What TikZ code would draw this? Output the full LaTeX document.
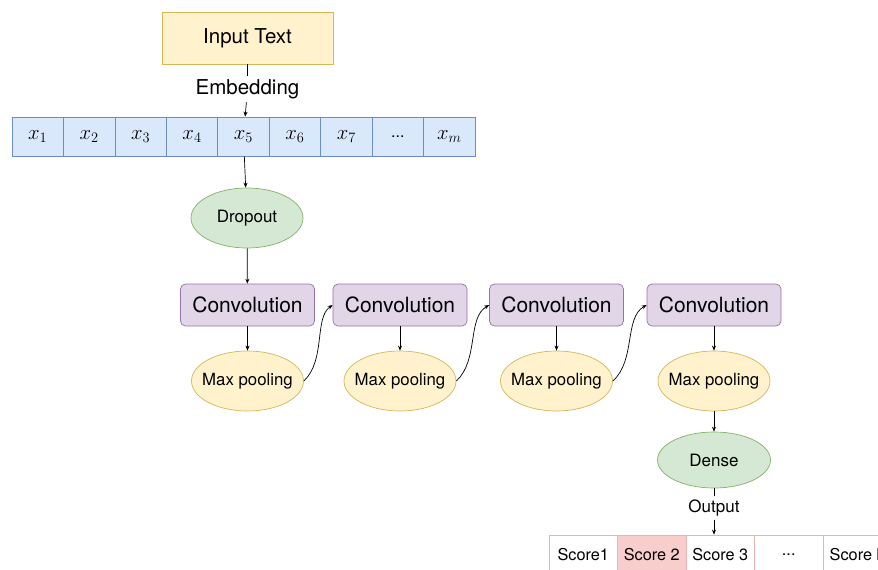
\documentclass[tikz,border=0pt]{standalone}
\usepackage[no-math]{fontspec}
\setmainfont{TeX Gyre Heros}
\usepackage{amsmath}
\usepackage{xcolor}
\usetikzlibrary{arrows.meta,shapes.geometric}

\definecolor{yelfill}{HTML}{FFF2CC}
\definecolor{yelline}{HTML}{D6B656}
\definecolor{bluefill}{HTML}{DAE8FC}
\definecolor{blueline}{HTML}{6C8EBF}
\definecolor{grnfill}{HTML}{D5E8D4}
\definecolor{grnline}{HTML}{82B366}
\definecolor{purfill}{HTML}{E1D5E7}
\definecolor{purline}{HTML}{9673A6}
\definecolor{redfill}{HTML}{F8CECC}
\definecolor{redline}{HTML}{EAB3B1}

\begin{document}
\begin{tikzpicture}[x=1pt,y=-1pt,line width=0.7pt,
    every node/.style={inner sep=0pt},
    arr/.style={-{Stealth[length=5pt,width=4pt]}},
    inbox/.style={draw=yelline,fill=yelfill,minimum width=171pt,minimum height=52pt,font=\fontsize{20.5}{24}\selectfont},
    tokcell/.style={draw=blueline,fill=bluefill,minimum width=51.44pt,minimum height=39pt,font=\fontsize{22}{26}\selectfont},
    dropnode/.style={ellipse,draw=grnline,fill=grnfill,inner xsep=-14pt,minimum width=112pt,minimum height=60pt,font=\fontsize{17}{20}\selectfont},
    convbox/.style={draw=purline,fill=purfill,rounded corners=5pt,minimum width=134pt,minimum height=42pt,font=\fontsize{21}{25}\selectfont},
    poolnode/.style={ellipse,draw=yelline,fill=yelfill,inner xsep=-14pt,minimum width=112pt,minimum height=60pt,font=\fontsize{16.8}{20}\selectfont},
    scorecell/.style={draw=redline,minimum width=68.5pt,minimum height=40pt,font=\fontsize{16.3}{19}\selectfont},
    lbl/.style={fill=white,inner sep=3pt,font=\fontsize{20.5}{24}\selectfont}]
  \useasboundingbox (0,0) rectangle (878,570);

  \node (in) at (247.5,38) [inbox] {Input Text};
  \node (emb) at (247.5,89) [lbl] {Embedding};
  \foreach \i/\t in {1/$x_1$,2/$x_2$,3/$x_3$,4/$x_4$,5/$x_5$,6/$x_6$,7/$x_7$,8/{\fontsize{16}{18}\selectfont ...},9/$x_m$}
    \node (x\i) at ({12+51.44*(\i-0.5)},136.5) [tokcell] {\t};
  \node (drop) at (247,218) [dropnode] {Dropout};

  % conv / pooling stages
  \foreach \i/\cx in {1/247.5,2/400,3/556.5,4/714}{
    \node (c\i) at (\cx,305) [convbox] {Convolution};
    \node (p\i) at (\cx,381) [poolnode] {Max pooling};
    \draw[arr] (c\i) -- (p\i);
  }
  \node (dense) at (714,460) [dropnode,minimum width=113pt,minimum height=56pt] {Dense};
  \node (out) at (714,508) [lbl,font=\fontsize{17}{20}\selectfont] {Output};

  % scores
  \foreach \i/\t in {1/Score1,2/Score 2,3/Score 3,4/{\relax...},5/Score k}
    \node (s\i) at ({549+68.5*(\i-0.5)},555) [scorecell] {\t};
  \node at (s2) [scorecell,fill=redfill] {Score 2};

  \draw (in) -- (emb);
  \draw[arr] (emb) -- (x5);
  \draw[arr] (x5) -- (drop);
  \draw[arr] (drop) -- (c1);
  \draw[arr] (p1.east) .. controls (326,360) and (314,318) .. (c2.west);
  \draw[arr] (p2.east) .. controls (479,360) and (467,318) .. (c3.west);
  \draw[arr] (p3.east) .. controls (636,360) and (624,318) .. (c4.west);
  \draw[arr] (p4) -- (dense);
  \draw (dense) -- (out);
  \draw[arr] (out) -- (out |- s3.north);
\end{tikzpicture}
\end{document}
